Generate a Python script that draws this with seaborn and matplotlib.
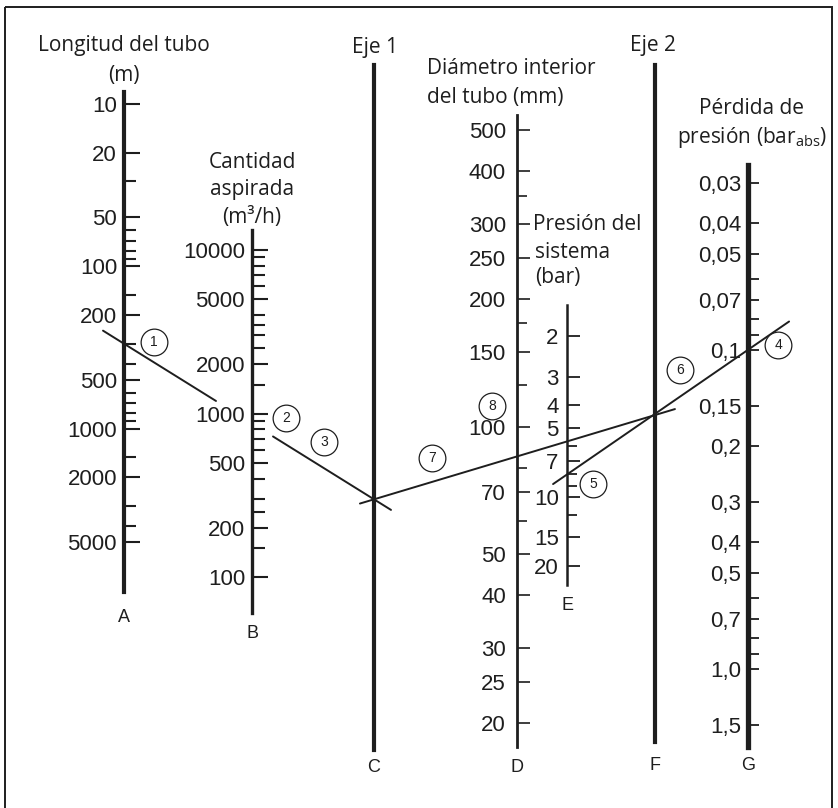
import numpy as np
import pandas as pd
import matplotlib.pyplot as plt
import seaborn as sns
from matplotlib.patches import Rectangle
from matplotlib.ticker import FixedLocator, FixedFormatter, NullFormatter

# --- scale values of the nomogram ---
length_major = [10, 20, 50, 100, 200, 500, 1000, 2000, 5000]
length_minor = [30, 60, 70, 80, 90, 150, 300, 400, 600, 700, 800, 900, 1500, 3000, 4000]
flow_major = [100, 200, 500, 1000, 2000, 5000, 10000]
flow_minor = [150, 250, 300, 400, 600, 700, 800, 900, 1500, 2500, 3000, 3500,
              4000, 6000, 7000, 8000, 9000]
diam_major = [20, 25, 30, 40, 50, 70, 100, 150, 200, 250, 300, 400, 500]
diam_minor = [60, 80, 125, 175, 350]
press_major = [2, 3, 4, 5, 7, 10, 15, 20]
press_minor = [6, 8, 9, 12]
loss_major = [0.03, 0.04, 0.05, 0.07, 0.1, 0.15, 0.2, 0.3, 0.4, 0.5, 0.7, 1.0, 1.5]
loss_minor = [0.06, 0.08, 0.09, 0.6, 0.8, 0.9]
loss_labels = ["0,03", "0,04", "0,05", "0,07", "0,1", "0,15", "0,2",
               "0,3", "0,4", "0,5", "0,7", "1,0", "1,5"]

# worked example
ex_length = 300     # m
ex_flow = 870       # m3/h
ex_diam = 85        # mm
ex_press = 8        # bar
ex_loss = 0.1       # bar abs

INK = "#1e1e1e"
W, H = 838, 808

sns.set_theme(style="white")
plt.rcParams["font.family"] = ["Liberation Sans", "DejaVu Sans"]
plt.rcParams["mathtext.fontset"] = "custom"
plt.rcParams["mathtext.rm"] = "Open Sans"
TITLE = ["Open Sans", "DejaVu Sans"]

fig = plt.figure(figsize=(W / 100, H / 100), dpi=100)
base = fig.add_axes([0, 0, 1, 1])
base.set_xlim(0, W)
base.set_ylim(H, 0)
base.axis("off")


def scale_axis(x, top, bottom, width):
    ax = fig.add_axes([x / W, 1 - bottom / H, 1e-6, (bottom - top) / H])
    ax.patch.set_visible(False)
    for s in ("top", "right", "bottom"):
        ax.spines[s].set_visible(False)
    ax.spines["left"].set_linewidth(width)
    ax.spines["left"].set_color(INK)
    ax.set_xlim(0, 1)
    ax.set_xticks([])
    return ax


def log_ticks(ax, anchors, top, bottom, major, minor, labels, pad,
              maj_len, min_len, tick_w):
    (v1, p1), (v2, p2) = anchors
    k = (np.log10(v2) - np.log10(v1)) / (p2 - p1)
    val = lambda p: 10 ** (np.log10(v1) + (p - p1) * k)
    ax.set_yscale("log")
    ax.set_ylim(val(bottom), val(top))
    ax.yaxis.set_major_locator(FixedLocator(major))
    ax.yaxis.set_major_formatter(FixedFormatter(labels))
    ax.yaxis.set_minor_locator(FixedLocator(minor))
    ax.yaxis.set_minor_formatter(NullFormatter())
    ax.tick_params(axis="y", which="both", direction="in", left=True, right=False,
                   color=INK, labelcolor=INK, labelsize=16, pad=pad, width=tick_w)
    ax.tick_params(axis="y", which="major", length=maj_len)
    ax.tick_params(axis="y", which="minor", length=min_len)


# A - pipe length
ax_a = scale_axis(124, 92, 592, 3.0)
log_ticks(ax_a, [(10, 104), (5000, 542)], 92, 592, length_major, length_minor,
          [str(v) for v in length_major], 5, 11.5, 8.5, 1.5)
# B - suction flow
ax_b = scale_axis(252, 230, 613, 2.4)
log_ticks(ax_b, [(10000, 250), (100, 577)], 230, 613, flow_major, flow_minor,
          [str(v) for v in flow_major], 5, 11.5, 9, 1.5)
# C - Eje 1
ax_c = scale_axis(374, 65, 750, 3.0)
ax_c.set_yticks([])
# D - inner diameter
ax_d = scale_axis(517, 115, 747, 2.0)
log_ticks(ax_d, [(500, 130), (20, 723)], 115, 747, diam_major, diam_minor,
          [str(v) for v in diam_major], 8, 9.5, 7.5, 1.2)
# E - system pressure
ax_e = scale_axis(567, 305, 585, 1.8)
log_ticks(ax_e, [(2, 336), (20, 566)], 305, 585, press_major, press_minor,
          [str(v) for v in press_major], 6, 9.5, 7, 1.3)
# F - Eje 2
ax_f = scale_axis(655, 65, 742, 3.0)
ax_f.set_yticks([])
# G - pressure loss
ax_g = scale_axis(748, 165, 747, 3.8)
log_ticks(ax_g, [(0.03, 183), (1.5, 725)], 165, 747, loss_major, loss_minor,
          loss_labels, 5, 8, 8, 1.3)


def px(ax, v):
    return base.transData.inverted().transform(ax.transData.transform((0, v)))


def axis_x(ax):
    return base.transData.inverted().transform(ax.transAxes.transform((0, 0)))[0]


pA = px(ax_a, ex_length)
pB = px(ax_b, ex_flow)
pC = pA + (pB - pA) * (axis_x(ax_c) - pA[0]) / (pB[0] - pA[0])
pD = px(ax_d, ex_diam)
pF = pC + (pD - pC) * (axis_x(ax_f) - pC[0]) / (pD[0] - pC[0])
pE = px(ax_e, ex_press)
pG = px(ax_g, ex_loss)

# drawn pieces of the construction lines (fractions along each line)
segments = [
    (pA, pC, -0.084, 0.368),
    (pA, pC, 0.596, 1.068),
    (pC, pF, -0.05, 1.071),
    (pE, pG, -0.077, 1.227),
]
rows = []
for i, (p0, p1, t0, t1) in enumerate(segments):
    for t in (t0, t1):
        q = p0 + (p1 - p0) * t
        rows.append({"x": q[0], "y": q[1], "seg": i})
lines = pd.DataFrame(rows)
sns.lineplot(data=lines, x="x", y="y", units="seg", estimator=None, sort=False,
             color=INK, lw=1.4, ax=base, legend=False)

# circled step numbers, placed next to the points they refer to
def on_line(p0, p1, t):
    return p0 + (p1 - p0) * t

marks = [
    ("1", pA, (30, -2)),
    ("2", pB, (34, -5)),
    ("3", on_line(pA, pC, 0.8), (0, -26)),
    ("4", pG, (30, -5)),
    ("5", pE, (26, 10)),
    ("6", pF, (25, -45)),
    ("7", on_line(pC, pF, 0.206), (0, -24)),
    ("8", pD, (-25, -50)),
]
circ = pd.DataFrame({
    "x": [p[0] + o[0] for _, p, o in marks],
    "y": [p[1] + o[1] for _, p, o in marks],
    "n": [n for n, _, _ in marks],
})
sns.scatterplot(data=circ, x="x", y="y", s=370, marker="o", facecolor="white",
                edgecolor=INK, linewidth=0.9, ax=base, legend=False, zorder=5)
for _, r in circ.iterrows():
    base.text(r.x, r.y, r.n, ha="center", va="center", fontsize=10, color=INK, zorder=6)

# titles
def title(x, y, s, ha="center"):
    base.text(x, y, s, ha=ha, va="center", fontsize=15, color=INK, family=TITLE)

title(124, 45, "Longitud del tubo")
title(124, 75, "(m)")
title(252, 162, "Cantidad")
title(252, 190, "aspirada")
title(252, 217, "(m³/h)")
title(375, 48, "Eje 1")
title(427, 68, "Diámetro interior", ha="left")
title(427, 98, "del tubo (mm)", ha="left")
title(533, 225, "Presión del", ha="left")
title(535, 252, "sistema", ha="left")
title(535, 278, "(bar)", ha="left")
title(653, 45, "Eje 2")
title(751, 108, "Pérdida de")
title(752, 137, r"presión (bar$_{\mathrm{abs}}$)")

# scale letters
for letter, ax, y in [("A", ax_a, 618), ("B", ax_b, 633), ("C", ax_c, 767),
                      ("D", ax_d, 767), ("E", ax_e, 605), ("F", ax_f, 765),
                      ("G", ax_g, 765)]:
    base.text(axis_x(ax), y, letter, ha="center", va="center", fontsize=13, color=INK)

base.add_patch(Rectangle((5, 7), 827, 812, fill=False, lw=1.4, ec=INK, clip_on=False))

fig.savefig("out.png", dpi=100)
